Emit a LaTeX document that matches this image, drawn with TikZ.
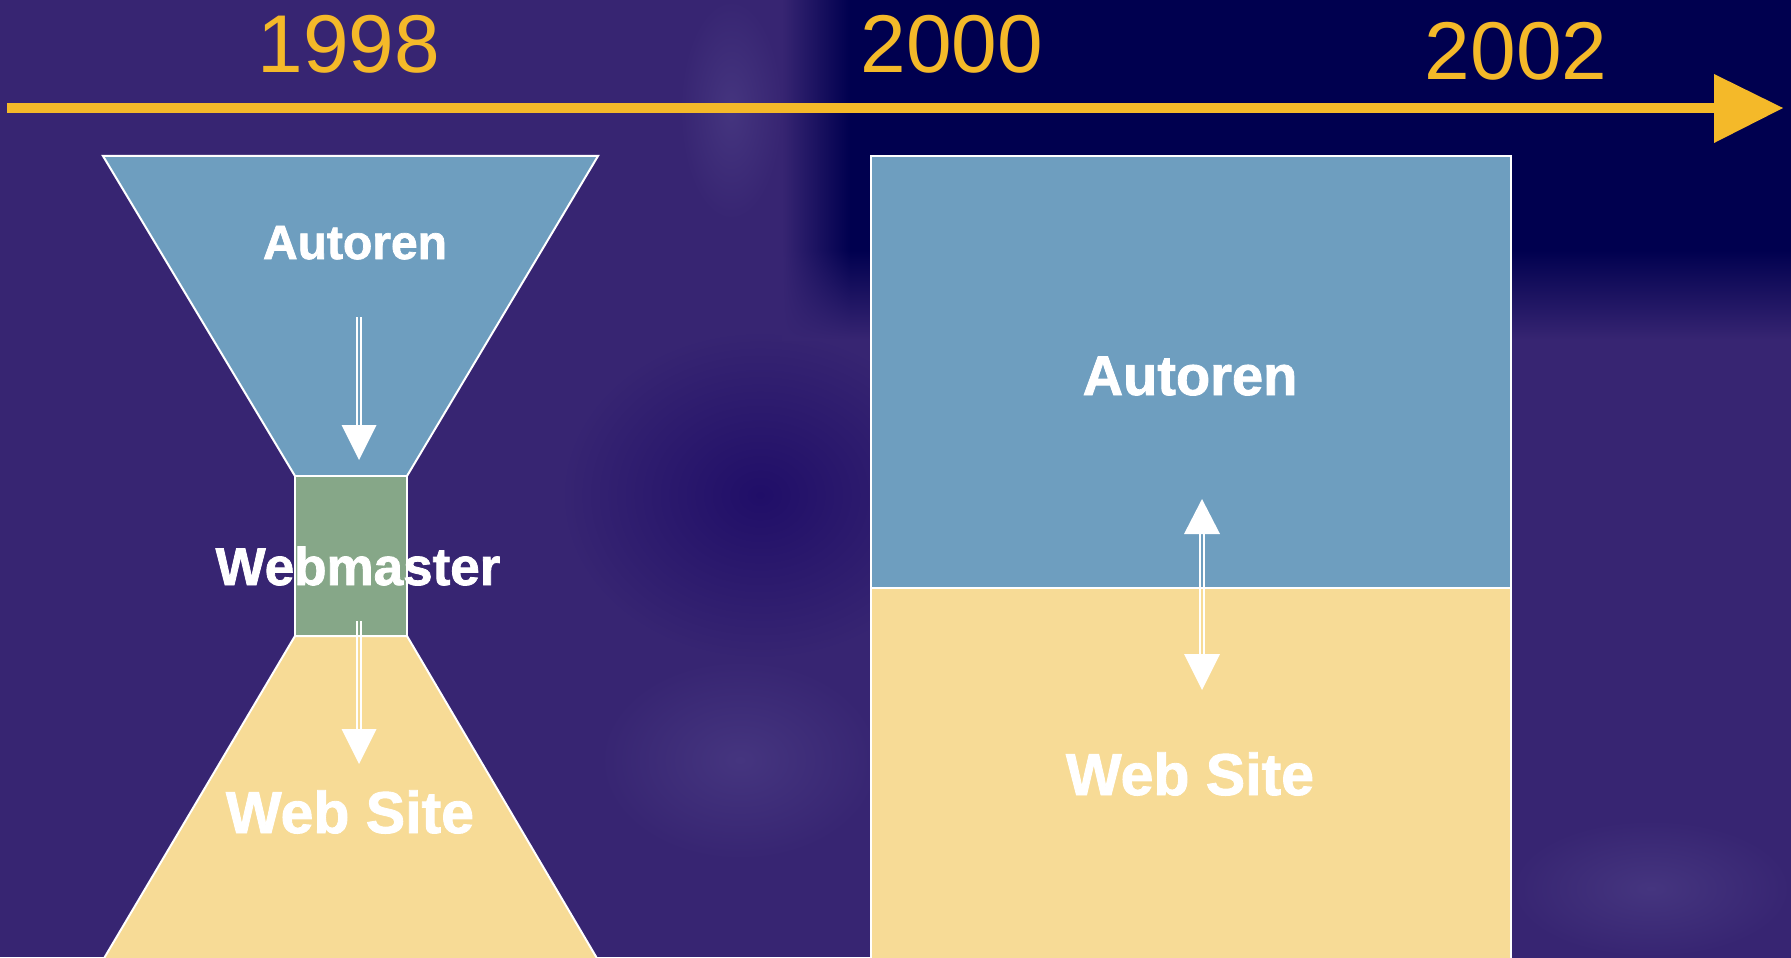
\documentclass[tikz,border=0pt]{standalone}
\usepackage{fontspec}
\setmainfont{Liberation Sans}
\newfontfamily\heavyfont[BoldFeatures={FakeBold=1.5}]{Liberation Sans}
\usetikzlibrary{shadings}
\definecolor{bgpurple}{HTML}{372572}
\definecolor{bgnavy}{HTML}{00004F}
\definecolor{bgdark}{HTML}{200E68}
\definecolor{bglight}{HTML}{45357F}
\definecolor{tlorange}{HTML}{F4B929}
\definecolor{boxblue}{HTML}{6E9EBF}
\definecolor{boxgreen}{HTML}{86A788}
\definecolor{boxyellow}{HTML}{F7DB96}
\begin{document}
\begin{tikzpicture}[x=0.5pt,y=-0.5pt,
  panel/.style={draw=white, line width=1pt, line join=miter},
  year/.style={text=tlorange, font=\fontsize{41}{41}\selectfont, anchor=base, inner sep=0pt},
  lbl/.style={text=white, anchor=base, inner sep=0pt},
  shaft/.style={draw=white, line width=0.85pt},
  tip/.style={fill=white}
]
\useasboundingbox (0,0) rectangle (1791,957);
% background
\fill[bgpurple] (0,0) rectangle (1791,957);
\shade[inner color=bgdark, outer color=bgpurple] (560,330) rectangle (960,660);
\shade[inner color=bglight, outer color=bgpurple] (680,0) rectangle (782,220);
\shade[inner color=bglight, outer color=bgpurple] (600,660) rectangle (880,860);
\shade[inner color=bglight, outer color=bgpurple] (1511,820) rectangle (1791,957);
\shade[left color=bgpurple, right color=bgnavy] (782,0) rectangle (850,250);
\fill[bgnavy] (850,0) rectangle (1791,250);
\shade[top color=bgnavy, bottom color=bgpurple] (850,250) rectangle (1791,340);
\shade[upper left=bgpurple, upper right=bgnavy, lower left=bgpurple, lower right=bgpurple] (782,250) rectangle (850,340);

% timeline
\coordinate (tl0) at (7,108);
\coordinate (tl1) at (1716,108);
\draw[tlorange, line width=5pt] (tl0) -- (tl1);
\fill[tlorange] (1714,74) -- (1783,108) -- (1714,143) -- cycle;
\node[year] (y1998) at (349,73) {1998};
\node[year] (y2000) at (952,73) {2000};
\node[year] (y2002) at (1516,80) {2002};

% left funnel
\filldraw[panel, fill=boxblue] (103,156) -- (598,156) -- (407,476) -- (295,476) -- cycle;
\filldraw[panel, fill=boxgreen] (295,476) rectangle (407,636);
\filldraw[panel, fill=boxyellow] (295,636) -- (407,636) -- (598,960) -- (103,960) -- cycle;

% right panel
\filldraw[panel, fill=boxblue] (871,156) rectangle (1511,588);
\filldraw[panel, fill=boxyellow] (871,588) rectangle (1511,960);

% labels
\node[lbl, font=\heavyfont\bfseries\fontsize{24}{24}\selectfont] (autL) at (355,259) {Autoren};
\node[lbl, font=\heavyfont\bfseries\fontsize{26.5}{26.5}\selectfont] (webm) at (358,585) {Webmaster};
\node[lbl, font=\heavyfont\bfseries\fontsize{29.5}{29.5}\selectfont] (siteL) at (350,833) {Web Site};
\node[lbl, font=\heavyfont\bfseries\fontsize{28}{28}\selectfont] (autR) at (1190,395) {Autoren};
\node[lbl, font=\heavyfont\bfseries\fontsize{29.5}{29.5}\selectfont] (siteR) at (1190,795) {Web Site};

% arrow 1: Autoren -> Webmaster
\coordinate (a1s) at (359,317);
\coordinate (a1b) at (359,425);
\coordinate (a1t) at (359,460);
\draw[shaft] ([xshift=-1pt]a1s) -- ([xshift=-1pt,yshift=-1pt]a1b);
\draw[shaft] ([xshift=1pt]a1s) -- ([xshift=1pt,yshift=-1pt]a1b);
\fill[tip] ([xshift=-8.75pt]a1b) -- ([xshift=8.75pt]a1b) -- (a1t) -- cycle;

% arrow 2: Webmaster -> Web Site
\coordinate (a2s) at (359,621);
\coordinate (a2b) at (359,729);
\coordinate (a2t) at (359,764);
\draw[shaft] ([xshift=-1pt]a2s) -- ([xshift=-1pt,yshift=-1pt]a2b);
\draw[shaft] ([xshift=1pt]a2s) -- ([xshift=1pt,yshift=-1pt]a2b);
\fill[tip] ([xshift=-8.75pt]a2b) -- ([xshift=8.75pt]a2b) -- (a2t) -- cycle;

% arrow 3: double-headed, right panel
\coordinate (a3tt) at (1202,499);
\coordinate (a3tb) at (1202,534);
\coordinate (a3bb) at (1202,654);
\coordinate (a3bt) at (1202,690);
\draw[shaft] ([xshift=-1pt,yshift=1pt]a3tb) -- ([xshift=-1pt,yshift=-1pt]a3bb);
\draw[shaft] ([xshift=1pt,yshift=1pt]a3tb) -- ([xshift=1pt,yshift=-1pt]a3bb);
\fill[tip] ([xshift=-9pt]a3tb) -- ([xshift=9pt]a3tb) -- (a3tt) -- cycle;
\fill[tip] ([xshift=-9pt]a3bb) -- ([xshift=9pt]a3bb) -- (a3bt) -- cycle;
\end{tikzpicture}
\end{document}
